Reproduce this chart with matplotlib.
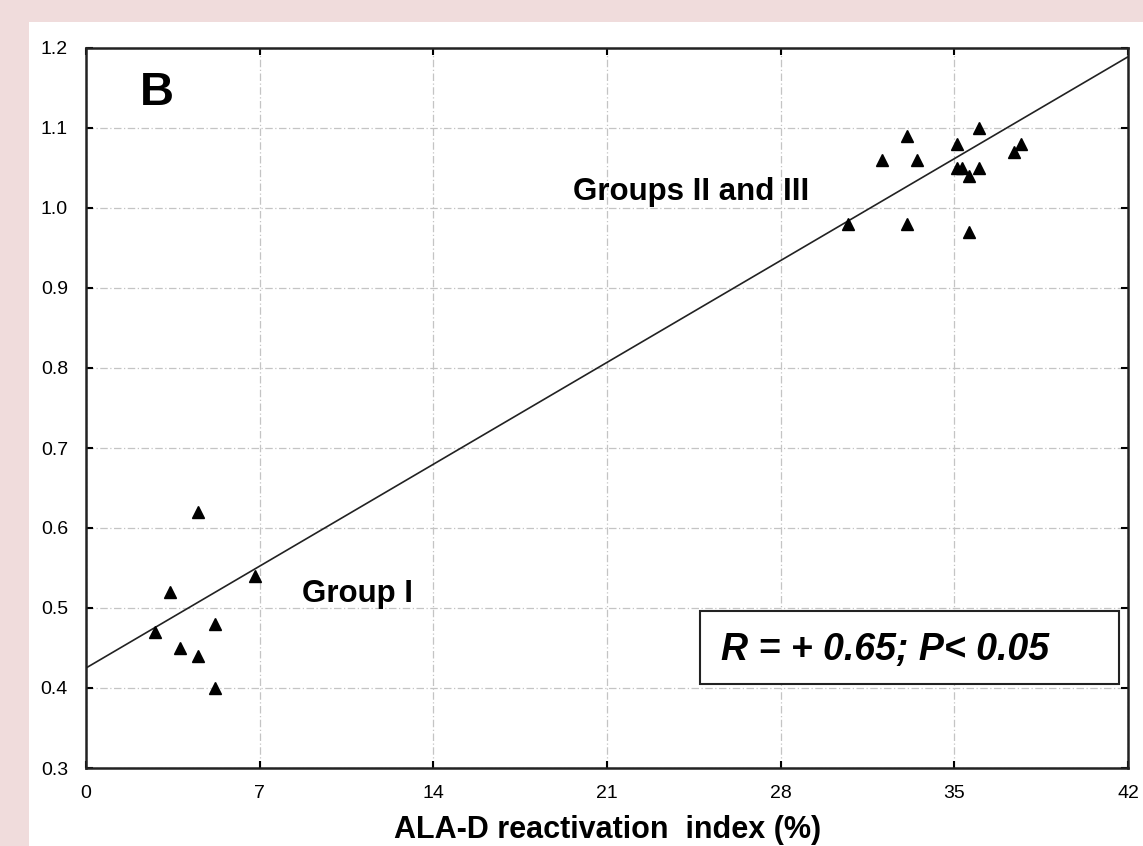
import numpy as np
import matplotlib.pyplot as plt
from matplotlib.patches import Rectangle

plt.rcParams['font.family'] = ['Liberation Sans', 'DejaVu Sans']

# ALA-D reactivation index (%) and ratio
group1_x = [2.8, 3.4, 3.8, 4.5, 4.5, 5.2, 5.2, 6.8]
group1_y = [0.47, 0.52, 0.45, 0.62, 0.44, 0.48, 0.40, 0.54]
group23_x = [30.7, 32.1, 33.1, 33.1, 33.5, 35.1, 35.1, 35.3, 35.6, 35.6, 36.0, 36.0, 37.4, 37.7]
group23_y = [0.98, 1.06, 1.09, 0.98, 1.06, 1.08, 1.05, 1.05, 1.04, 0.97, 1.10, 1.05, 1.07, 1.08]

# regression line ends
line_x = [0, 42]
line_y = [0.425, 1.189]

x_ticks = [0, 7, 14, 21, 28, 35, 42]
y_ticks = [0.3, 0.4, 0.5, 0.6, 0.7, 0.8, 0.9, 1.0, 1.1, 1.2]

fig = plt.figure(figsize=(11.43, 8.46), dpi=100, facecolor='#f0dcdc')
# white panel over the pink border
fig.patches.append(Rectangle((29 / 1143, 0), 1, (846 - 22) / 846,
                             transform=fig.transFigure, facecolor='white',
                             edgecolor='none', zorder=-10))

ax = fig.add_axes([86 / 1143, 1 - 768 / 846, (1128 - 86) / 1143, (768 - 48) / 846])
ax.set_zorder(5)
ax.set_facecolor('white')

ax.plot(line_x, line_y, color='#222222', lw=1.2, zorder=3)
ax.plot(group1_x, group1_y, '^', color='black', markersize=8.5, zorder=4)
ax.plot(group23_x, group23_y, '^', color='black', markersize=8.5, zorder=4)

ax.set_xlim(0, 42)
ax.set_ylim(0.3, 1.2)
ax.set_xticks(x_ticks)
ax.set_yticks(y_ticks)
ax.set_xticklabels([str(t) for t in x_ticks])
ax.set_yticklabels([f"{t:.1f}" for t in y_ticks])
ax.tick_params(direction='in', length=5, width=1.5, top=True, right=True,
               labelsize=14, pad=13)
ax.tick_params(axis='x', pad=12)

ax.grid(True, color='#c4c4c4', lw=0.9, linestyle=(0, (6, 2, 1, 2)))
ax.set_axisbelow(True)
for s in ax.spines.values():
    s.set_linewidth(1.8)
    s.set_color('#222222')

fig.text(608 / 1143, 1 - 838 / 846, 'ALA-D reactivation  index (%)', fontsize=22,
         fontweight='bold', ha='center', va='baseline')

ax.text(2.18, 1.129, 'B', fontsize=34, fontweight='bold', ha='left', va='baseline')
ax.text(19.63, 1.01, 'Groups II and III', fontsize=22.5, fontweight='bold', ha='left', va='baseline')
ax.text(8.71, 0.5075, 'Group I', fontsize=22.5, fontweight='bold', ha='left', va='baseline')

ax.text(25.6, 0.435, 'R = + 0.65; P< 0.05', fontsize=27, fontweight='bold', style='italic',
        ha='left', va='baseline', zorder=6)
ax.add_patch(Rectangle((0.589, 0.1167), 0.402, 0.101, transform=ax.transAxes,
                       facecolor='white', edgecolor='#222222', lw=1.5, zorder=5))

fig.savefig('out.png', dpi=100, facecolor=fig.get_facecolor())
